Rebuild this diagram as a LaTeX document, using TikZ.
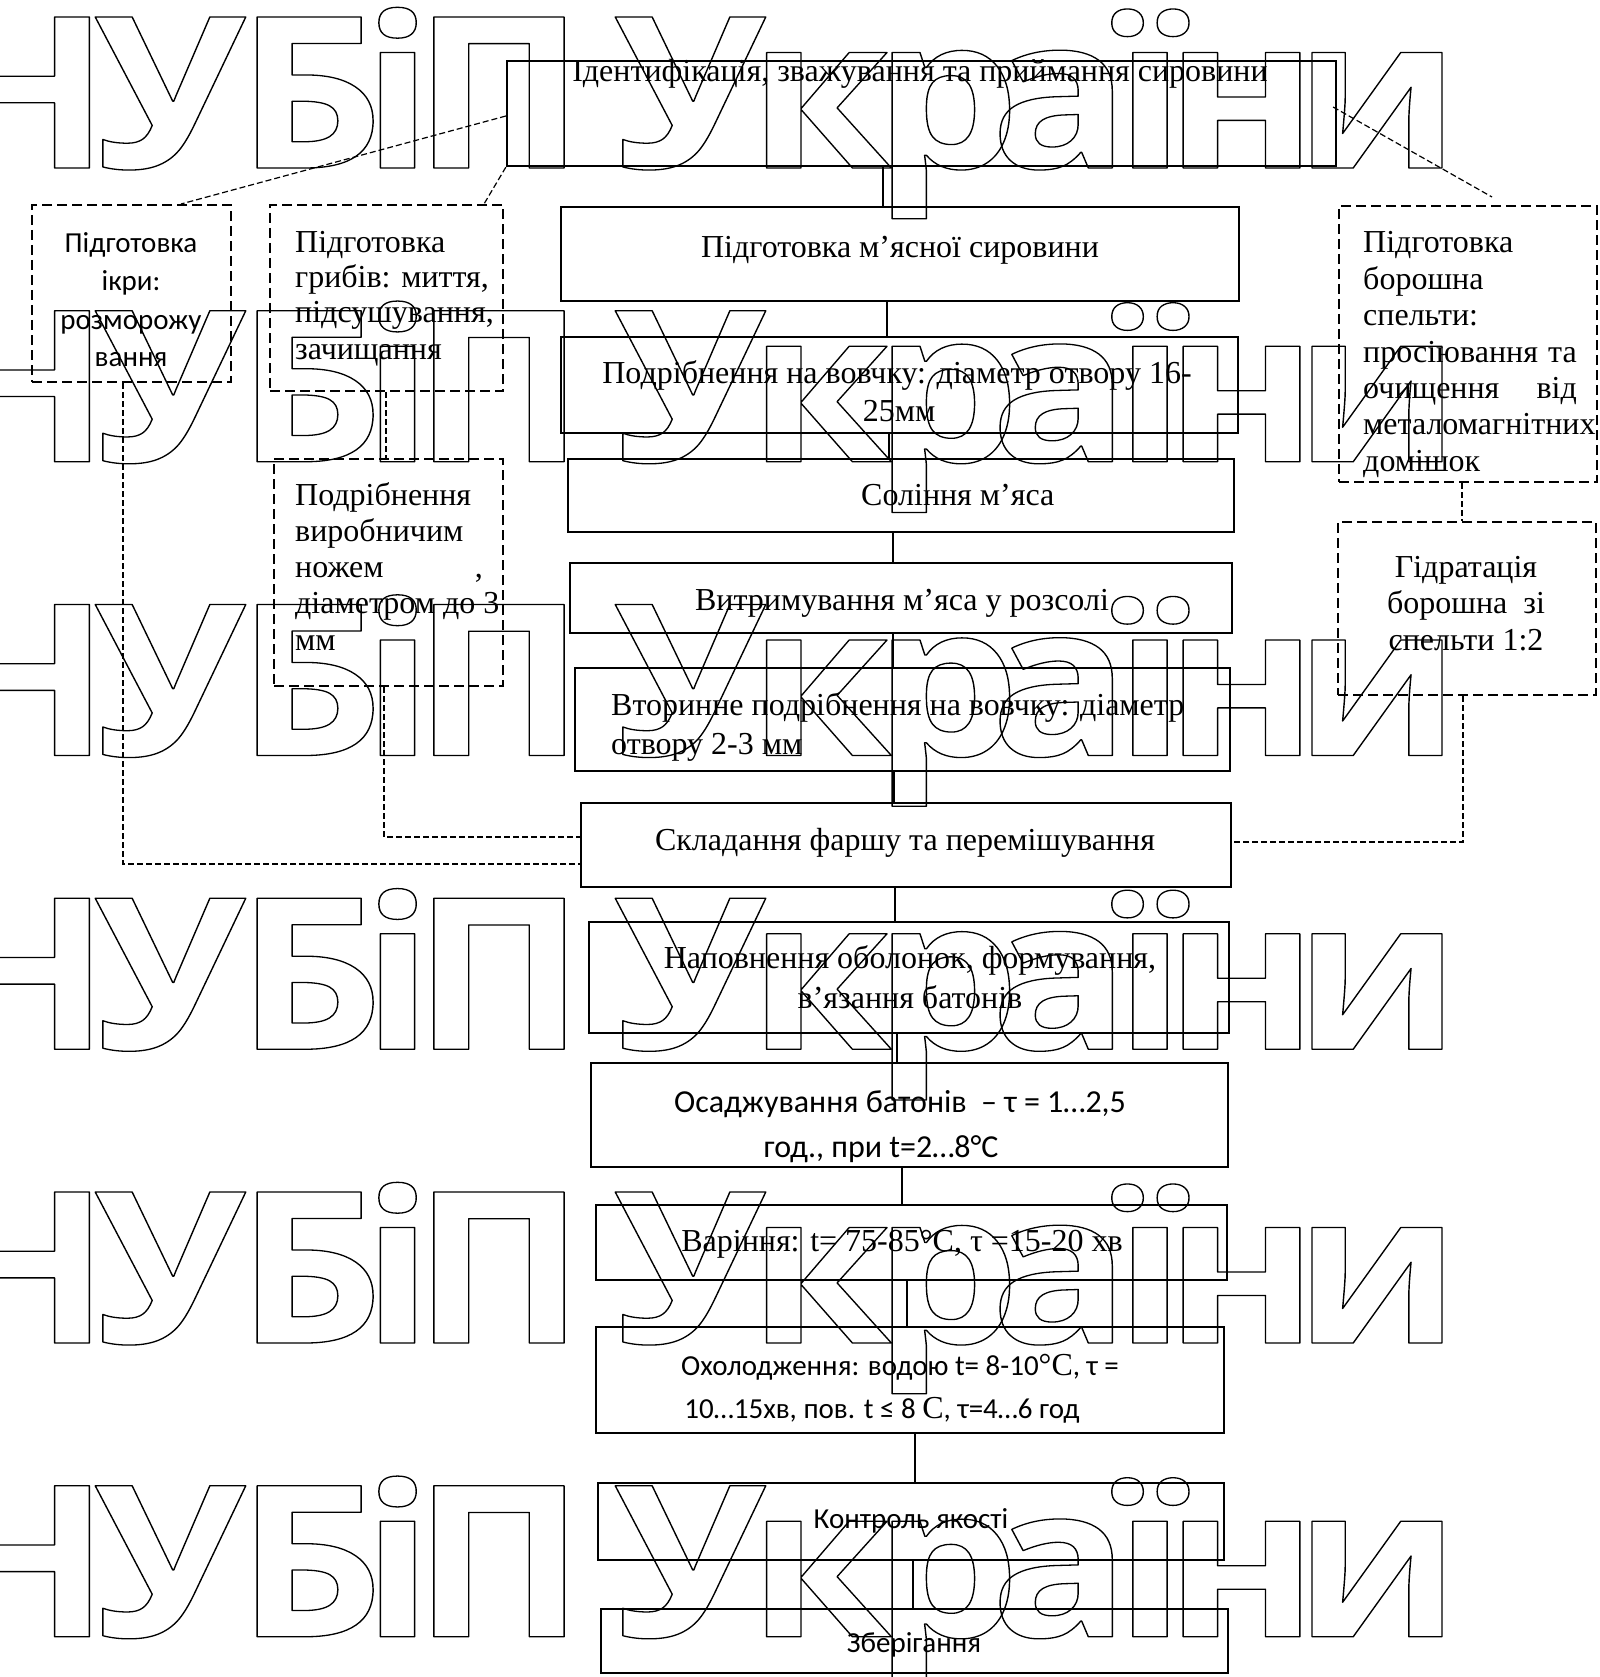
\documentclass[tikz,border=0pt]{standalone}
\usepackage{fontspec}
\setmainfont{Liberation Serif}
\newfontfamily\calfont{Carlito}
\newfontfamily\wmfont{Open Sans}
\usetikzlibrary{calc}
\newcommand\wmon{\special{pdf:literal direct 1 Tr 1.3 w 1 j 0 G}}
\newcommand\wmoff{\special{pdf:literal direct 0 Tr}}
\newcommand\tmC{{\rmfamily\fontsize{32}{38}\selectfont C}}
\newcommand\tmd{{\rmfamily\fontsize{32}{38}\selectfont °C}}
\tikzset{
  mainbox/.style={draw, line width=2.2pt, inner sep=0pt, rectangle},
  sidebox/.style={draw, line width=2pt, dash pattern=on 10pt off 5pt, inner sep=0pt, rectangle},
  link/.style={line width=1.1pt},
  dlink/.style={line width=1.2pt, dash pattern=on 6pt off 3pt},
  tm/.style={font=\fontsize{32}{38}\selectfont, inner sep=0pt, anchor=base},
  cb/.style={font=\calfont\fontsize{29}{35}\selectfont, inner sep=0pt, anchor=base},
  cbl/.style={font=\calfont\fontsize{32}{38}\selectfont, inner sep=0pt, anchor=base},
  wm/.style={font=\wmfont\bfseries\fontsize{211.5}{212}\selectfont, inner sep=0pt, anchor=base, xscale=1.09},
}
\begin{document}
\begin{tikzpicture}[x=1pt,y=-1pt]
\useasboundingbox (0,0) rectangle (1599,1677);
% watermark "НУБіП України", six rows
\foreach \k in {0,...,5}{
  \foreach \c/\xc [count=\i] in {Н/22, У/170.5, Б/310, і/397.5, П/499, У/690.5, к/820, р/947, а/1060, ї/1150, н/1241.5, и/1377}{
    \node[wm] (W\k-\i) at (\xc,168+293.75*\k) {\wmon\c\wmoff};
  }
}
% main boxes
\node[mainbox, minimum width=829pt, minimum height=105pt] (B1) at (921.5,113.5) {};
\node[mainbox, minimum width=678pt, minimum height=94pt] (B2) at (900,254) {};
\node[mainbox, minimum width=677pt, minimum height=96pt] (B3) at (899.5,385) {};
\node[mainbox, minimum width=666pt, minimum height=73pt] (B4) at (901,495.5) {};
\node[mainbox, minimum width=662pt, minimum height=70pt] (B5) at (901,598) {};
\node[mainbox, minimum width=655pt, minimum height=103pt] (B6) at (902.5,719.5) {};
\node[mainbox, minimum width=650pt, minimum height=84pt] (B7) at (906,845) {};
\node[mainbox, minimum width=640pt, minimum height=111pt] (B8) at (909,977.5) {};
\node[mainbox, minimum width=637pt, minimum height=104pt] (B9) at (909.5,1115) {};
\node[mainbox, minimum width=631pt, minimum height=75pt] (B10) at (911.5,1242.5) {};
\node[mainbox, minimum width=628pt, minimum height=106pt] (B11) at (910,1380) {};
\node[mainbox, minimum width=626pt, minimum height=77pt] (B12) at (911,1521.5) {};
\node[mainbox, minimum width=627pt, minimum height=64pt] (B13) at (914.5,1641) {};
% side boxes
\node[sidebox, minimum width=199pt, minimum height=177pt] (S1) at (131.5,293.5) {};
\node[sidebox, minimum width=233pt, minimum height=186pt] (S2) at (386.5,298) {};
\node[sidebox, minimum width=229pt, minimum height=227pt] (S5) at (388.5,572.5) {};
\node[sidebox, minimum width=258pt, minimum height=276pt] (S3) at (1468,344) {};
\node[sidebox, minimum width=258pt, minimum height=173pt] (S4) at (1467,608.5) {};
% main texts
\node[tm] (T1) at (920,82) {Ідентифікація, зважування та приймання сировини};
\node[tm] (T2) at (900,258) {Підготовка м’ясної сировини};
\node[tm] (T3a) at (897,383) {Подрібнення на вовчку: діаметр отвору 16-};
\node[tm] (T3b) at (899,421) {25мм};
\node[tm, anchor=base west] (T4) at (861,505) {Соління м’яса};
\node[tm] (T5) at (902,610) {Витримування м’яса у розсолі};
\node[tm, anchor=base west] (T6a) at (611,715) {Вторинне подрібнення на вовчку: діаметр};
\node[tm, anchor=base west] (T6b) at (611,754) {отвору 2-3 мм};
\node[tm] (T7) at (905,850) {Складання фаршу та перемішування};
\node[tm] (T8a) at (910,968) {Наповнення оболонок, формування,};
\node[tm] (T8b) at (910,1008) {в’язання батонів};
\node[cbl] (T9a) at (900,1112) {Осаджування батонів\ \ – τ = 1…2,5};
\node[cbl] (T9b) at (881,1157) {год., при t=2…8°C};
\node[tm] (T10) at (902,1251) {Варіння: t= 75-85°C, τ =15-20 хв};
\node[cb] (T11a) at (900,1375) {Охолодження: водою t= 8-10\tmd, τ =};
\node[cb] (T11b) at (882,1418) {10…15хв, пов. t ≤ 8 \tmC, τ=4…6 год};
\node[cb] (T12) at (911,1528) {Контроль якості};
\node[cb] (T13) at (914,1652) {Зберігання};
% side texts
\node[cb] (S1a) at (131,253) {Підготовка};
\node[cb] (S1b) at (131,291) {ікри:};
\node[cb] (S1c) at (131,329) {розморожу};
\node[cb] (S1d) at (131,366) {вання};
\node[tm, anchor=base west] (S2a) at (295,253) {Підготовка};
\node[tm, anchor=base west] (S2b) at (295,288) {грибів: миття,};
\node[tm, anchor=base west] (S2c) at (295,323) {підсушування,};
\node[tm, anchor=base west] (S2d) at (295,359) {зачищання};
\node[tm, anchor=base west] (S5a) at (295,505) {Подрібнення};
\node[tm, anchor=base west] (S5b) at (295,541) {виробничим};
\node[tm, anchor=base west] (S5c) at (295,577) {ножем};
\node[tm, anchor=base east] (S5d) at (483,577) {,};
\node[tm, anchor=base west] (S5e) at (295,613) {діаметром до 3};
\node[tm, anchor=base west] (S5f) at (295,650) {мм};
\node[tm, anchor=base west] (S3a) at (1363,253) {Підготовка};
\node[tm, anchor=base west] (S3b) at (1363,289.3) {борошна};
\node[tm, anchor=base west] (S3c) at (1363,325.6) {спельти:};
\node[tm, anchor=base west] (S3d) at (1363,362) {просіювання};
\node[tm, anchor=base east] (S3e) at (1577,362) {та};
\node[tm, anchor=base west] (S3f) at (1363,398) {очищення};
\node[tm, anchor=base east] (S3g) at (1577,398) {від};
\node[tm, anchor=base west] (S3h) at (1363,434.5) {металомагнітних};
\node[tm, anchor=base west] (S3i) at (1363,471) {домішок};
\node[tm] (S4a) at (1466,577) {Гідратація};
\node[tm] (S4b) at (1466,613) {борошна\ \ зі};
\node[tm] (S4c) at (1466,650) {спельти 1:2};
% main chain connectors
\draw[link] (B1.south -| 883,0) -- (B2.north -| 883,0);
\draw[link] (B2.south -| 887,0) -- (B3.north -| 887,0);
\draw[link] (B3.south -| 889,0) -- (B4.north -| 889,0);
\draw[link] (B4.south -| 893,0) -- (B5.north -| 893,0);
\draw[link] (B5.south -| 893,0) -- (B6.north -| 893,0);
\draw[link] (B6.south -| 894,0) -- (B7.north -| 894,0);
\draw[link] (B7.south -| 895,0) -- (B8.north -| 895,0);
\draw[link] (B8.south -| 897,0) -- (B9.north -| 897,0);
\draw[link] (B9.south -| 902,0) -- (B10.north -| 902,0);
\draw[link] (B10.south -| 907,0) -- (B11.north -| 907,0);
\draw[link] (B11.south -| 915,0) -- (B12.north -| 915,0);
\draw[link] (B12.south -| 913,0) -- (B13.north -| 913,0);
% dashed connectors
\coordinate (r1) at ($(B1.east)+(-4,-6.5)$);
\coordinate (r2) at ($(S3.north west)+(154,-8)$);
\draw[dlink] (B1.west |- 0,116) -- (S1.north -| 181,0);
\draw[dlink] (B1.south west) -- (S2.north -| 484,0);
\draw[dlink] (r1) -- (r2);
\draw[dlink] (S2.south -| 386,0) -- (S5.north -| 386,0);
\draw[dlink] (S5.south -| 384,0) |- (B7.west |- 0,837);
\draw[dlink] (S1.south -| 123,0) |- (B7.west |- 0,864);
\draw[dlink] (S3.south -| 1462,0) -- (S4.north -| 1462,0);
\draw[dlink] (S4.south -| 1463,0) |- (B7.east |- 0,842);
\end{tikzpicture}
\end{document}
